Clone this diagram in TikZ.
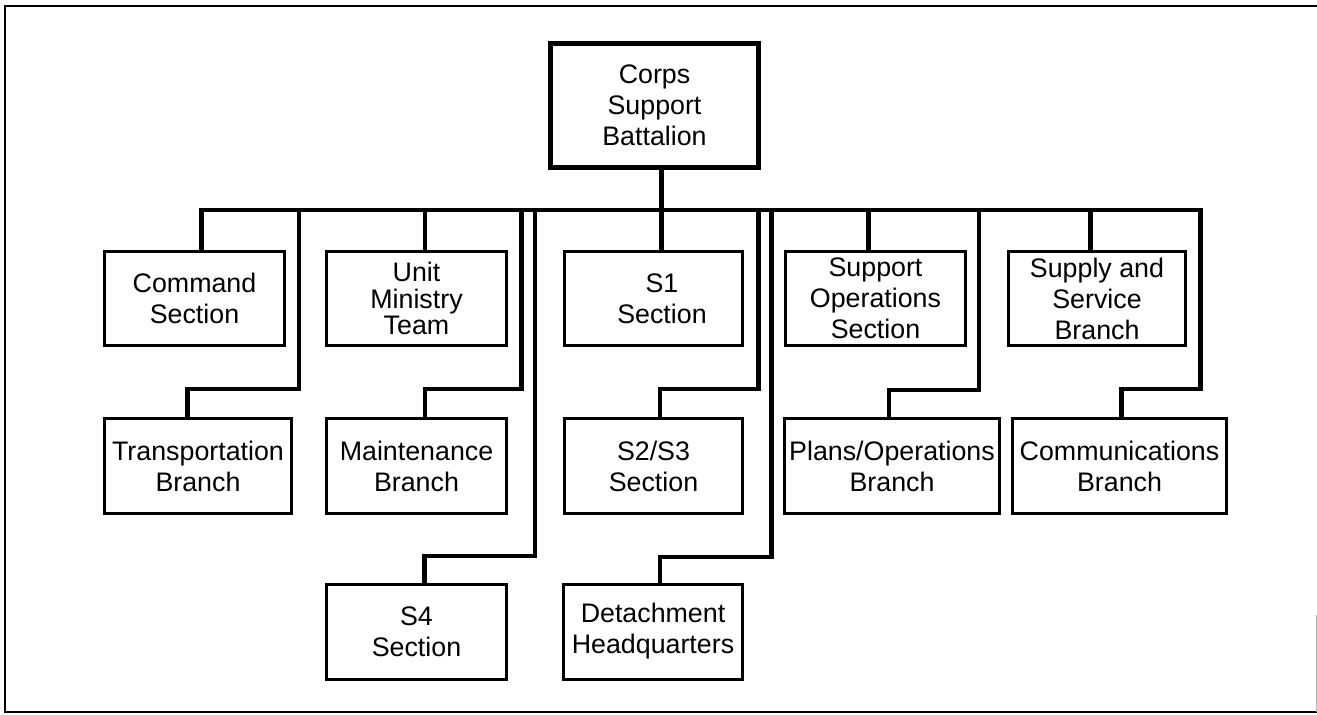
\documentclass[tikz,border=0pt]{standalone}
\usepackage{fontspec}
\setmainfont{Liberation Sans}
\begin{document}
\begin{tikzpicture}[x=0.5pt,y=-0.5pt,
  unit/.style={draw, line width=1.5pt, inner sep=0pt, align=center,
    font=\fontsize{13.4}{15.5}\selectfont},
  wh/.style 2 args={minimum width=#1*0.5pt, minimum height=#2*0.5pt},
  link/.style={line width=2.25pt, line join=miter, line cap=rect}]
\useasboundingbox (0,0) rectangle (1317,714);

% frame
\draw[line width=1.2pt] (1317,6) -- (5,6) -- (5,712) -- (1317,712);
\draw[black!30, line width=0.5pt] (1316,615) -- (1316,712);

% battalion headquarters
\node[unit, wh={208}{124}, line width=2.5pt] (csb) at (654.5,105.5) {Corps\\Support\\Battalion};

% first row
\node[unit, wh={180}{94}] (cmd) at (194.5,298.5) {Command\\Section};
\node[unit, wh={180}{94}, font=\fontsize{13.4}{13.3}\selectfont] (umt) at (416.5,298.5) {Unit\\Ministry\\Team};
\node[unit, wh={178}{94}] (s1) at (653.5,298.5) {\hspace*{8.5pt}S1\\\hspace*{8.5pt}Section};
\node[unit, wh={180}{94}] (sop) at (875.5,298.5) {Support\\Operations\\Section};
\node[unit, wh={177}{94}] (ssb) at (1097,298.5) {Supply and\\Service\\Branch};

% second row
\node[unit, wh={187}{95}] (trans) at (198,466) {Transportation\\Branch};
\node[unit, wh={180}{95}] (maint) at (416.5,466) {Maintenance\\Branch};
\node[unit, wh={178}{95}] (s23) at (653.5,466) {S2/S3\\Section};
\node[unit, wh={215}{95}] (plans) at (892,466) {Plans/Operations\\Branch};
\node[unit, wh={214}{95}] (comm) at (1119.5,466) {Communications\\Branch};

% third row
\node[unit, wh={180}{95}] (s4) at (416.5,631.5) {S4\\Section};
\node[unit, wh={179}{95}] (det) at (653,631.5) {Detachment\\Headquarters};

% bus and trunk
\coordinate (busL) at (201.7,210);
\coordinate (busR) at (1200.7,210);
\coordinate (trunk) at (661.7,210);
\draw[link] (busL) -- (busR);
\draw[link] (csb.south -| trunk) -- (s1.north -| trunk);

% first-row drops
\coordinate (tap-umt) at (425,210);
\coordinate (tap-sop) at (868.3,210);
\coordinate (tap-ssb) at (1090.7,210);
\draw[link] (busL) -- (busL |- cmd.north);
\draw[link] (tap-umt) -- (tap-umt |- umt.north);
\draw[link] (tap-sop) -- (tap-sop |- sop.north);
\draw[link] (tap-ssb) -- (tap-ssb |- ssb.north);

% stepped drops to the lower rows
\foreach \n/\xa/\xb/\yj in {trans/299/187.7/389, maint/521.7/425/389,
    s4/535/424.5/556, s23/758.3/660/389, det/771.7/660/557,
    plans/979/889/390, comm/1200.7/1121.7/389} {
  \coordinate (tap-\n) at (\xa,210);
  \coordinate (jog-\n) at (\xb,\yj);
  \draw[link] (tap-\n) |- (jog-\n) -- (jog-\n |- \n.north);
}
\end{tikzpicture}
\end{document}
